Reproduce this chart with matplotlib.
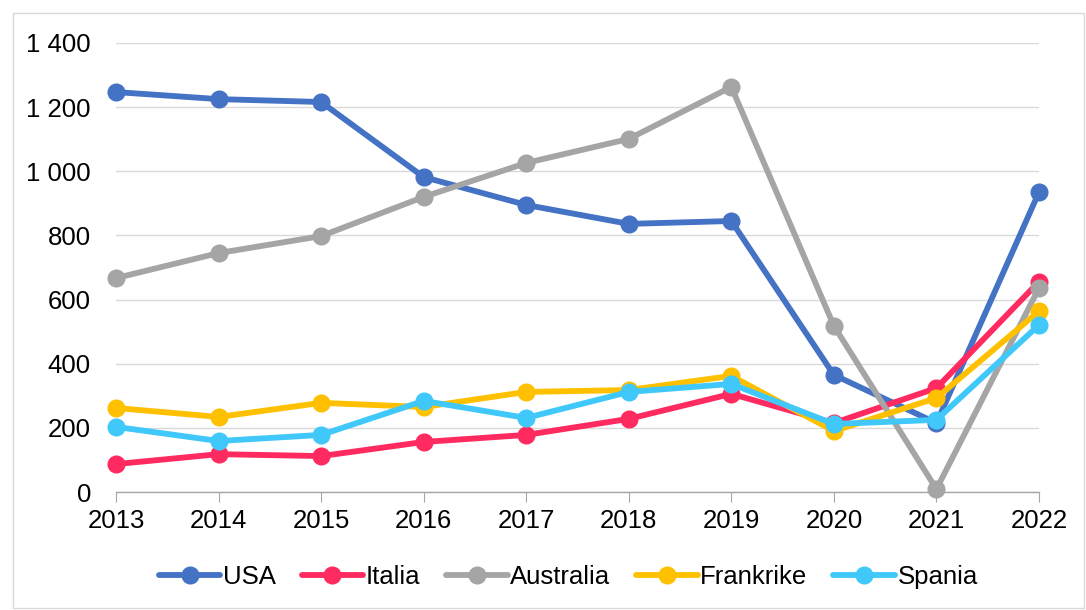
import matplotlib
matplotlib.use("Agg")
import matplotlib.pyplot as plt
from matplotlib.ticker import FuncFormatter

# data
years = [2013, 2014, 2015, 2016, 2017, 2018, 2019, 2020, 2021, 2022]
usa = [1247, 1225, 1216, 982, 895, 836, 845, 365, 215, 935]
italia = [87, 118, 112, 156, 178, 228, 306, 215, 324, 656]
australia = [667, 745, 798, 920, 1026, 1101, 1263, 518, 9, 636]
frankrike = [262, 234, 278, 265, 312, 318, 362, 190, 293, 564]
spania = [203, 159, 178, 284, 231, 312, 337, 212, 225, 521]

series = [
    ("USA", usa, "#4472C4"),
    ("Italia", italia, "#FF2A5F"),
    ("Australia", australia, "#A5A5A5"),
    ("Frankrike", frankrike, "#FFC000"),
    ("Spania", spania, "#40C8FA"),
]

plt.rcParams['font.family'] = ['Liberation Sans', 'DejaVu Sans']

fig = plt.figure(figsize=(10.86, 6.10), dpi=100)
ax = fig.add_axes([116 / 1086, 1 - 492 / 610, (1039 - 116) / 1086, (492 - 43) / 610])

for name, vals, col in series:
    ax.plot(years, vals, color=col, lw=4.2, marker="o", ms=12, label=name,
            solid_capstyle="round", clip_on=False)

ax.set_xlim(2013, 2022)
ax.set_ylim(0, 1400)
ax.set_yticks(range(0, 1401, 200))
ax.set_xticks(years)
ax.yaxis.set_major_formatter(FuncFormatter(lambda v, p: f"{int(v):,}".replace(",", " ")))

ax.grid(axis="y", color="#D9D9D9", lw=1)
ax.set_axisbelow(True)
for s in ["top", "right", "left"]:
    ax.spines[s].set_visible(False)
ax.spines["bottom"].set_color("#A6A6A6")
ax.spines["bottom"].set_linewidth(1)
ax.tick_params(axis="x", length=7, color="#A6A6A6", labelsize=18.5, pad=5)
ax.tick_params(axis="y", length=0, labelsize=18.5, pad=18)

ax.legend(loc="center", bbox_to_anchor=(0.49, -0.19), ncol=5, frameon=False,
          fontsize=18.5, handlelength=2.4, handletextpad=0.1, columnspacing=1.0)

# light border round the chart
fig.patches.append(plt.Rectangle((0.012, 0.004), 0.986, 0.974, transform=fig.transFigure,
                                 fill=False, edgecolor="#D9D9D9", lw=1))

fig.savefig("out.png", dpi=100)
